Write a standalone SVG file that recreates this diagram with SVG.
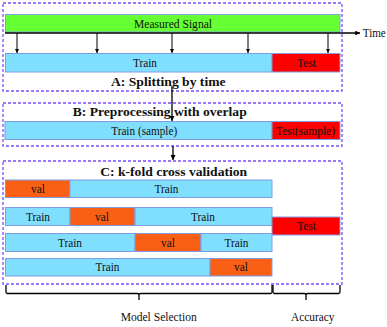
<svg xmlns="http://www.w3.org/2000/svg" width="387" height="327" viewBox="0 0 387 327">
<defs>
<marker id="ah" viewBox="0 0 10 10" refX="10" refY="5" markerWidth="4" markerHeight="4" orient="auto" markerUnits="strokeWidth"><path d="M0,0 L10,5 L0,10 z" fill="#000"/></marker>
<marker id="ah2" viewBox="0 0 10 10" refX="10" refY="5" markerWidth="3" markerHeight="3" orient="auto" markerUnits="strokeWidth"><path d="M0,0 L10,5 L0,10 z" fill="#000"/></marker>
</defs>
<style>
.frame{fill:none;stroke:#7b4dff;stroke-width:1.3;stroke-dasharray:3,2}
.bar{stroke:#7f9de6;stroke-width:1}
.green{fill:#66ff33}
.blue{fill:#80dfff}
.red{fill:#ff0000}
.orange{fill:#f96015}
text{font-size:11.5px;fill:#111;text-anchor:middle}
.title{font-weight:bold;font-size:13.5px}
.ln{stroke:#000;fill:none}
</style>
<g font-family="Liberation Serif, Times New Roman, Times, serif">
<g id="frameA"><rect class="frame" x="3" y="3" width="339" height="88"/></g>
<g id="frameB"><rect class="frame" x="3" y="103" width="339" height="43"/></g>
<g id="frameC"><rect class="frame" x="3" y="161" width="339" height="123"/></g>
<g id="signal"><rect class="bar green" x="5.5" y="14.5" width="334.5" height="17.5"/><text x="173" y="27.5" textLength="78" lengthAdjust="spacingAndGlyphs">Measured Signal</text></g>
<g id="trainA"><rect class="bar blue" x="5.5" y="53.5" width="266.5" height="18.5"/><text x="145" y="67" textLength="24" lengthAdjust="spacingAndGlyphs">Train</text></g>
<g id="testA"><rect class="bar red" x="272" y="53.5" width="68" height="18.5"/><text x="306.5" y="67" textLength="19" lengthAdjust="spacingAndGlyphs">Test</text></g>
<g id="labelA"><text class="title" x="168.3" y="85.5" textLength="114.5" lengthAdjust="spacingAndGlyphs">A: Splitting by time</text></g>
<g id="time"><text x="374.3" y="37" textLength="23" lengthAdjust="spacingAndGlyphs">Time</text></g>
<g id="labelB"><text class="title" x="159.7" y="115.5" textLength="174" lengthAdjust="spacingAndGlyphs">B: Preprocessing  with overlap</text></g>
<g id="trainB"><rect class="bar blue" x="5" y="121.5" width="267" height="18"/><text x="144.2" y="134.5" textLength="66" lengthAdjust="spacingAndGlyphs">Train (sample)</text></g>
<g id="testB"><rect class="bar red" x="272" y="121.5" width="68" height="18"/><text x="305.5" y="134.5" textLength="59" lengthAdjust="spacingAndGlyphs">Test(sample)</text></g>
<g id="labelC"><text class="title" x="173.7" y="176" textLength="147" lengthAdjust="spacingAndGlyphs">C: k-fold cross validation</text></g>
<g id="row1">
<rect class="bar orange" x="5.5" y="180" width="64.5" height="17.5"/><text x="38" y="193" textLength="14" lengthAdjust="spacingAndGlyphs">val</text>
<rect class="bar blue" x="70" y="180" width="202" height="17.5"/><text x="166.5" y="193" textLength="24" lengthAdjust="spacingAndGlyphs">Train</text>
</g>
<g id="row2">
<rect class="bar blue" x="5.5" y="207.5" width="64.5" height="18"/><text x="38" y="220.5" textLength="24" lengthAdjust="spacingAndGlyphs">Train</text>
<rect class="bar orange" x="70" y="207.5" width="65" height="18"/><text x="102" y="220.5" textLength="14" lengthAdjust="spacingAndGlyphs">val</text>
<rect class="bar blue" x="135" y="207.5" width="137" height="18"/><text x="203" y="220.5" textLength="24" lengthAdjust="spacingAndGlyphs">Train</text>
</g>
<g id="testC"><rect class="bar red" x="272" y="217" width="68" height="18"/><text x="306.5" y="230" textLength="19" lengthAdjust="spacingAndGlyphs">Test</text></g>
<g id="row3">
<rect class="bar blue" x="5.5" y="233.5" width="129.5" height="18"/><text x="70" y="246.5" textLength="24" lengthAdjust="spacingAndGlyphs">Train</text>
<rect class="bar orange" x="135" y="233.5" width="66" height="18"/><text x="168" y="246.5" textLength="14" lengthAdjust="spacingAndGlyphs">val</text>
<rect class="bar blue" x="201" y="233.5" width="71" height="18"/><text x="236.5" y="246.5" textLength="24" lengthAdjust="spacingAndGlyphs">Train</text>
</g>
<g id="row4">
<rect class="bar blue" x="5.5" y="258.5" width="204.5" height="17.5"/><text x="107.5" y="271" textLength="24" lengthAdjust="spacingAndGlyphs">Train</text>
<rect class="bar orange" x="210" y="258.5" width="62" height="17.5"/><text x="241" y="271" textLength="14" lengthAdjust="spacingAndGlyphs">val</text>
</g>
<g id="bottomLabels"><text x="158.7" y="321" textLength="76" lengthAdjust="spacingAndGlyphs">Model Selection</text><text x="312.7" y="321" textLength="43.3" lengthAdjust="spacingAndGlyphs">Accuracy</text></g>
<g id="connectors">
<line class="ln" x1="5" y1="33" x2="360" y2="33" stroke-width="1.6" marker-end="url(#ah2)"/>
<line class="ln" x1="17" y1="33" x2="17" y2="53" stroke-width="1" marker-end="url(#ah)"/>
<line class="ln" x1="97" y1="33" x2="97" y2="53" stroke-width="1" marker-end="url(#ah)"/>
<line class="ln" x1="172" y1="33" x2="172" y2="53" stroke-width="1" marker-end="url(#ah)"/>
<line class="ln" x1="248" y1="33" x2="248" y2="53" stroke-width="1" marker-end="url(#ah)"/>
<line class="ln" x1="328" y1="33" x2="328" y2="53" stroke-width="1" marker-end="url(#ah)"/>
<line class="ln" x1="172" y1="86" x2="172" y2="121" stroke-width="1.3" marker-end="url(#ah)"/>
<line class="ln" x1="173" y1="146" x2="173" y2="160" stroke-width="1.3" marker-end="url(#ah)"/>
<path class="ln" stroke-width="1.3" d="M6,285 V292 Q6,293.5 7.5,293.5 H137.5 Q139,293.5 139,295 V300 M139,295 Q139,293.5 140.5,293.5 H270.5 Q272,293.5 272,292 V285"/>
<path class="ln" stroke-width="1.3" d="M273,285 V292 Q273,293.5 274.5,293.5 H304.5 Q306,293.5 306,295 V300 M306,295 Q306,293.5 307.5,293.5 H338.5 Q340,293.5 340,292 V285"/>
</g>
</g>
</svg>
